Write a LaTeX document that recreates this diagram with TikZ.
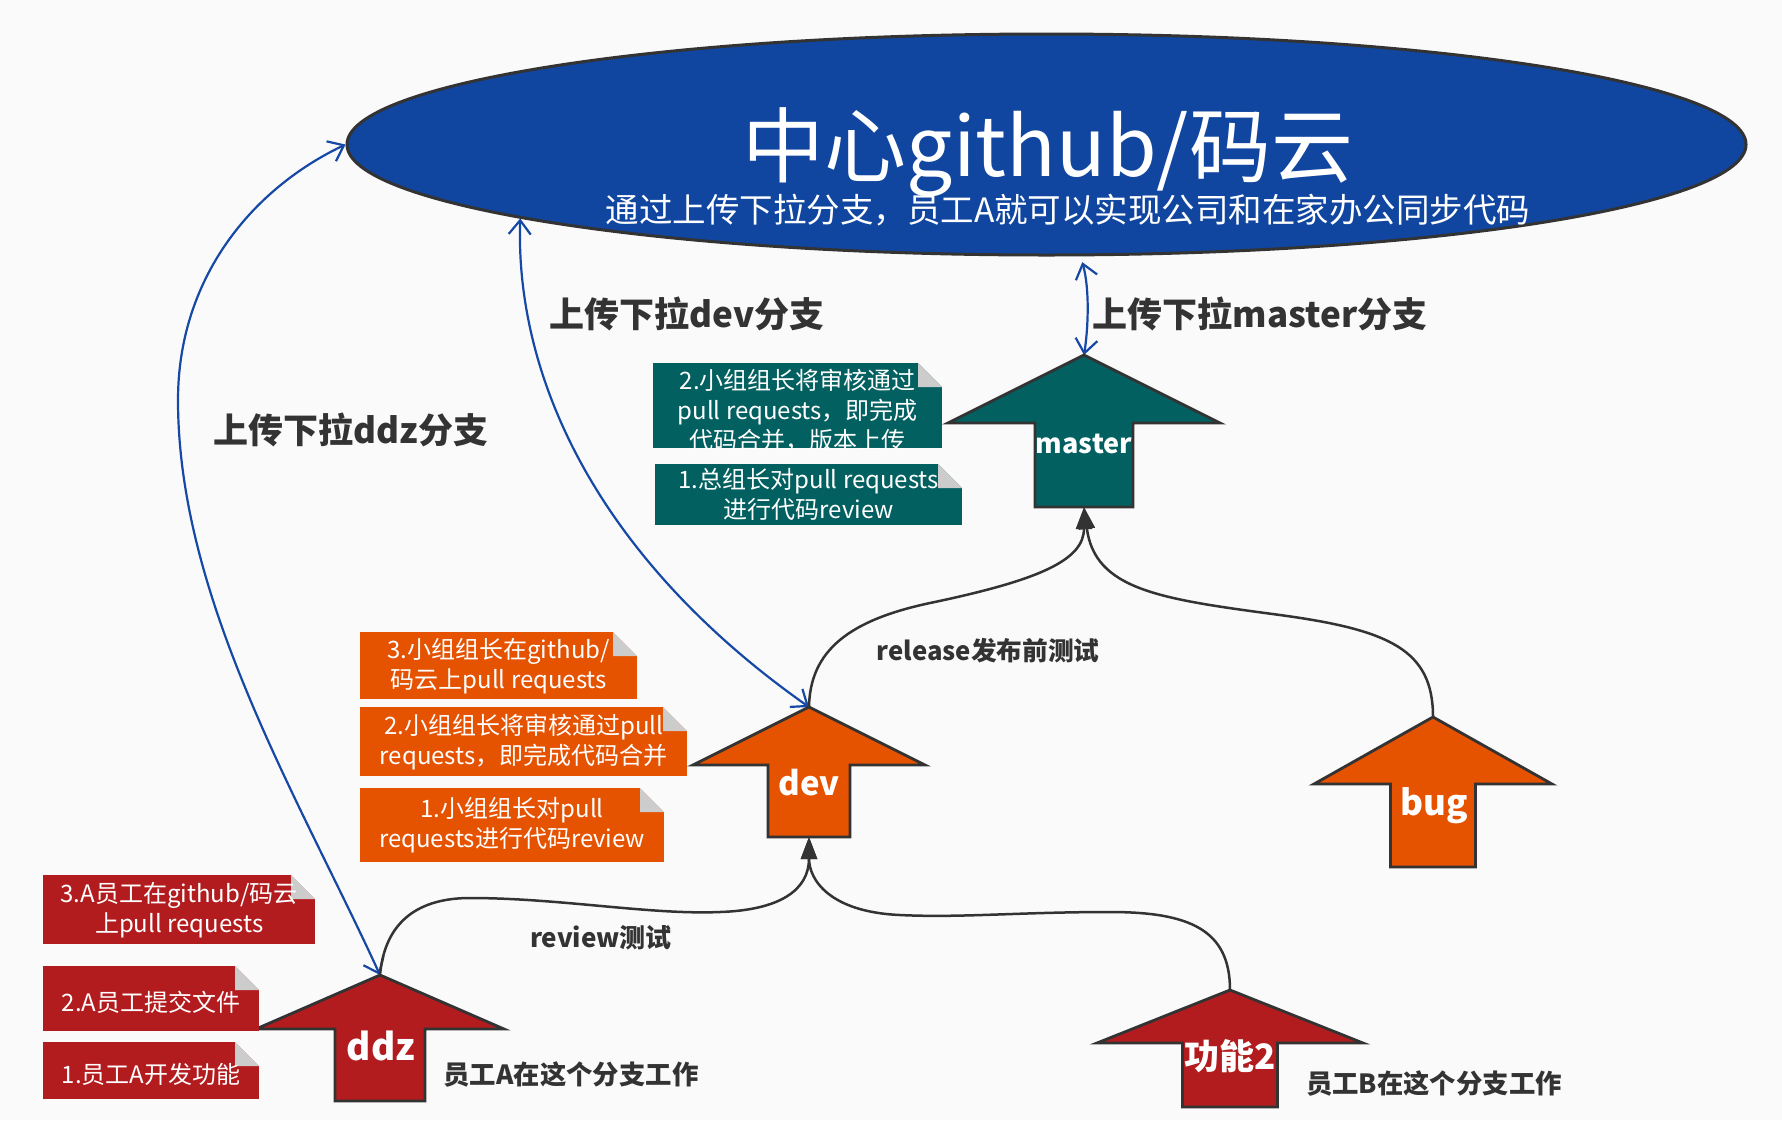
\documentclass[tikz,border=0pt]{standalone}
\usepackage{fontspec}
\setmainfont{Noto Sans CJK SC}
\usetikzlibrary{arrows.meta, shapes.geometric}

\definecolor{paper}{RGB}{250,250,250}
\definecolor{hubblue}{RGB}{16,70,160}
\definecolor{linkblue}{RGB}{22,72,165}
\definecolor{ink}{RGB}{51,51,51}
\definecolor{tealbr}{RGB}{3,96,96}
\definecolor{orangebr}{RGB}{229,82,0}
\definecolor{redbr}{RGB}{179,28,30}
\definecolor{fold}{RGB}{204,204,204}

\begin{document}
\begin{tikzpicture}[
    x=1pt, y=-1pt,
    % Style for the big up-arrows (branches)
    branch/.style={draw=ink, line width=2.8pt, line join=miter},
    % White text inside a branch arrow
    brlabel/.style={text=white, inner sep=0pt, font=\bfseries\fontsize{#1}{#1}\selectfont},
    % Dark captions
    caption/.style={text=ink, inner sep=0pt, font=\bfseries\fontsize{#1}{#1}\selectfont},
    % Blue sync lines and black merge lines
    link/.style={draw=linkblue, line width=2.2pt, >={Straight Barb[length=14pt,width=22pt]}, <->},
    flow/.style={draw=ink, line width=2.5pt, -{Triangle[length=22pt,width=16pt]}},
    % Sticky note with a folded corner
    note/.style={
        rectangle, inner sep=0pt, anchor=north west, text=white, align=center,
        font=\fontsize{24}{30}\selectfont,
        execute at begin node={\rule{0pt}{27pt}},
        path picture={
            \fill[paper] (path picture bounding box.north east) -- ++(-24pt,0pt) -- ++(24pt,-24pt) -- cycle;
            \fill[fold] (path picture bounding box.north east) ++(-24pt,0pt) -- ++(0pt,-24pt) -- ++(24pt,0pt) -- cycle;
        }
    }
]

    \fill[paper] (0,0) rectangle (1782,1120);
    \useasboundingbox (0,0) rectangle (1782,1120);

    % --- 1. Central repository ---
    \node[ellipse, draw=ink, line width=3pt, fill=hubblue, inner sep=0pt,
          minimum width=1399pt, minimum height=221pt] (hub) at (1046.5,144.5) {};
    \node[text=white, inner sep=0pt, font=\fontsize{82}{90}\selectfont] (title) at (1048,152) {中心github/码云};
    \node[text=white, inner sep=0pt, font=\fontsize{33.5}{40}\selectfont] (subtitle) at (1068,210) {通过上传下拉分支，员工A就可以实现公司和在家办公同步代码};

    % --- 2. Define Coordinates ---
    \coordinate (ddz_tip) at (380,975);
    \coordinate (dev_tip) at (809,707);
    \coordinate (dev_bot) at (809,837);
    \coordinate (master_tip) at (1084,355);
    \coordinate (master_bot) at (1084,507);
    \coordinate (bug_tip) at (1433,717);
    \coordinate (feat_tip) at (1230,990);

    % --- 3. Draw Connectors ---
    % upload / pull (blue)
    \draw[link] (hub.west) .. controls (250,190) and (178,280) .. (178,400)
                .. controls (178,600) and (300,800) .. (ddz_tip);
    \draw[link] (hub.188) .. controls (515,380) and (600,560) .. (dev_tip);
    \draw[link, shorten <=6pt] (hub.287) .. controls (1090,290) and (1088,330) .. (master_tip);

    % merges (black)
    \draw[flow] (ddz_tip) .. controls (385,920) and (420,898) .. (470,898)
                .. controls (560,898) and (650,915) .. (720,912)
                .. controls (780,910) and (809,890) .. (dev_bot);
    \draw[flow] (feat_tip) .. controls (1230,930) and (1190,912) .. (1110,912)
                .. controls (1020,912) and (960,918) .. (900,915)
                .. controls (830,912) and (809,880) .. (dev_bot);
    \draw[flow] (dev_tip) .. controls (810,650) and (850,620) .. (930,603)
                .. controls (1040,580) and (1084,560) .. (master_bot);
    \draw[flow] (bug_tip) .. controls (1433,650) and (1390,630) .. (1280,615)
                .. controls (1160,599) and (1095,590) .. (master_bot);

    % --- 4. Draw Branch Arrows ---
    \draw[branch, fill=tealbr] (master_tip) -- ++(136,68) -- ++(-87,0) -- ++(0,84) -- ++(-98,0) -- ++(0,-84) -- ++(-87,0) -- cycle;
    \draw[branch, fill=orangebr] (dev_tip) -- ++(116,58) -- ++(-75,0) -- ++(0,72) -- ++(-82,0) -- ++(0,-72) -- ++(-75,0) -- cycle;
    \draw[branch, fill=orangebr] (bug_tip) -- ++(119,67) -- ++(-76.5,0) -- ++(0,83) -- ++(-85,0) -- ++(0,-83) -- ++(-76.5,0) -- cycle;
    \draw[branch, fill=redbr] (ddz_tip) -- ++(124,54) -- ++(-79,0) -- ++(0,72) -- ++(-90,0) -- ++(0,-72) -- ++(-79,0) -- cycle;
    \draw[branch, fill=redbr] (feat_tip) -- ++(133,53) -- ++(-85.5,0) -- ++(0,64) -- ++(-95,0) -- ++(0,-64) -- ++(-85.5,0) -- cycle;

    \node[brlabel=27] (master) at (1084,444) {master};
    \node[brlabel=33] (dev) at (809,783) {dev};
    \node[brlabel=35] (bug) at (1434,806) {bug};
    \node[brlabel=37] (ddz) at (381,1046) {ddz};
    \node[brlabel=35] (feat) at (1230,1056) {功能2};

    % --- 5. Captions ---
    \node[caption=35] (up_ddz) at (351,430) {上传下拉ddz分支};
    \node[caption=35] (up_dev) at (687,314) {上传下拉dev分支};
    \node[caption=35] (up_master) at (1260,314) {上传下拉master分支};
    \node[caption=25.7] (release) at (988,651) {release发布前测试};
    \node[caption=26] (review) at (601,938) {review测试};
    \node[caption=26.4] (worker_a) at (571,1074) {员工A在这个分支工作};
    \node[caption=26.4] (worker_b) at (1434,1083) {员工B在这个分支工作};

    % --- 6. Sticky Notes ---
    \node[note, fill=tealbr, minimum width=289pt, minimum height=85pt] (t2) at (653,363) {};
    \begin{scope}
        \clip (t2.north west) rectangle (t2.south east);
        \node[text=white, align=center, inner sep=0pt, font=\fontsize{24}{30}\selectfont]
            at ([yshift=-5pt]t2.center) {2.小组组长将审核通过\\pull requests，即完成\\代码合并，版本上传};
    \end{scope}
    \node[note, fill=tealbr, minimum width=307pt, minimum height=61pt] (t1) at (655,464) {1.总组长对pull requests\\进行代码review};

    \node[note, fill=orangebr, minimum width=277pt, minimum height=67pt] (o3) at (360,632) {3.小组组长在github/\\码云上pull requests};
    \node[note, fill=orangebr, minimum width=327pt, minimum height=69pt] (o2) at (360,707) {2.小组组长将审核通过pull\\requests，即完成代码合并};
    \node[note, fill=orangebr, minimum width=304pt, minimum height=74pt] (o1) at (360,788) {1.小组组长对pull\\requests进行代码review};

    \node[note, fill=redbr, minimum width=272pt, minimum height=69pt] (r3) at (43,875) {3.A员工在github/码云\\上pull requests};
    \node[note, fill=redbr, minimum width=216pt, minimum height=65pt] (r2) at (43,966) {2.A员工提交文件};
    \node[note, fill=redbr, minimum width=216pt, minimum height=57pt] (r1) at (43,1042) {1.员工A开发功能};

\end{tikzpicture}
\end{document}
